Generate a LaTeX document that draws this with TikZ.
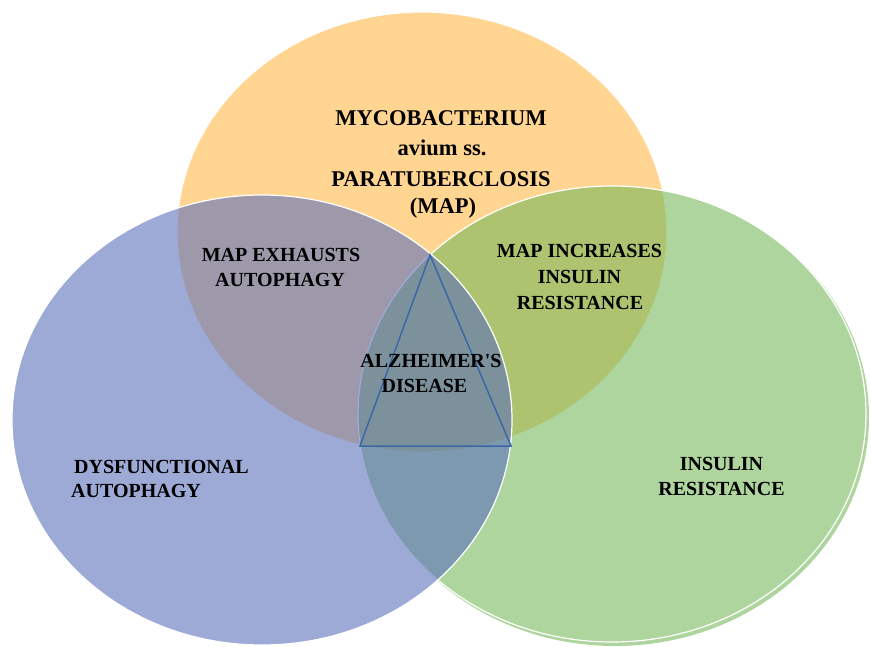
\documentclass[tikz,border=0pt]{standalone}
\usepackage{fontspec}
\setmainfont{Liberation Serif}[Ligatures=TeXOff]
\definecolor{orangefill}{RGB}{255,213,145}
\definecolor{greenfill}{RGB}{115,183,88}
\definecolor{bluefill}{RGB}{92,113,187}
\definecolor{triline}{RGB}{58,104,166}
\tikzset{
  lbl/.style={font=\fontsize{20}{24}\selectfont\bfseries, anchor=base, inner sep=0pt, text=black},
  toplbl/.style={lbl, font=\fontsize{22.5}{29}\selectfont\bfseries},
  disc/.style={draw=white, line width=1.2pt},
  tri/.style={draw=triline, line width=1.5pt, line join=miter},
}
\begin{document}
\begin{tikzpicture}[x=1pt,y=-1pt]
\useasboundingbox (0,0) rectangle (871,647);
% orange circle (MAP)
\fill[orangefill, disc] (422,232) ellipse [x radius=245pt, y radius=220pt];
% green shadow rim
\begin{scope}
  \clip (615,417) ellipse [x radius=254pt, y radius=229pt];
  \fill[greenfill, fill opacity=0.58, even odd rule] (0,0) rectangle (871,647)
     (612,414) ellipse [x radius=254pt, y radius=228pt];
\end{scope}
% green circle (insulin resistance)
\path[disc, fill=greenfill, fill opacity=0.58] (612,414) ellipse [x radius=254pt, y radius=228pt];
% blue circle (dysfunctional autophagy)
\path[disc, fill=bluefill, fill opacity=0.6] (262,420) ellipse [x radius=250pt, y radius=225pt];
% triangle
\coordinate (ta) at (430,255);
\coordinate (tl) at (360,446);
\coordinate (tr) at (511,446);
\draw[tri] (ta) -- (tl) -- (tr) -- cycle;
% texts
\node[toplbl] (t1) at (441,126) {MYCOBACTERIUM};
\node[toplbl] (t2) at (442,156) {avium ss.};
\node[toplbl] (t3) at (441,187) {PARATUBERCLOSIS};
\node[toplbl] (t4) at (443,214) {(MAP)};
\node[lbl] (e1) at (281,262) {MAP EXHAUSTS};
\node[lbl] (e2) at (280,287) {AUTOPHAGY};
\node[lbl] (i1) at (579.5,258) {MAP INCREASES};
\node[lbl] (i2) at (579.5,284) {INSULIN};
\node[lbl] (i3) at (580,310) {RESISTANCE};
\node[lbl] (a1) at (431,367) {ALZHEIMER'S};
\node[lbl] (a2) at (424.5,392) {DISEASE};
\node[lbl, anchor=base west] (d1) at (74,473) {DYSFUNCTIONAL};
\node[lbl, anchor=base west] (d2) at (71,497) {AUTOPHAGY};
\node[lbl] (r1) at (721.5,470) {INSULIN};
\node[lbl] (r2) at (721.5,495) {RESISTANCE};
\end{tikzpicture}
\end{document}
